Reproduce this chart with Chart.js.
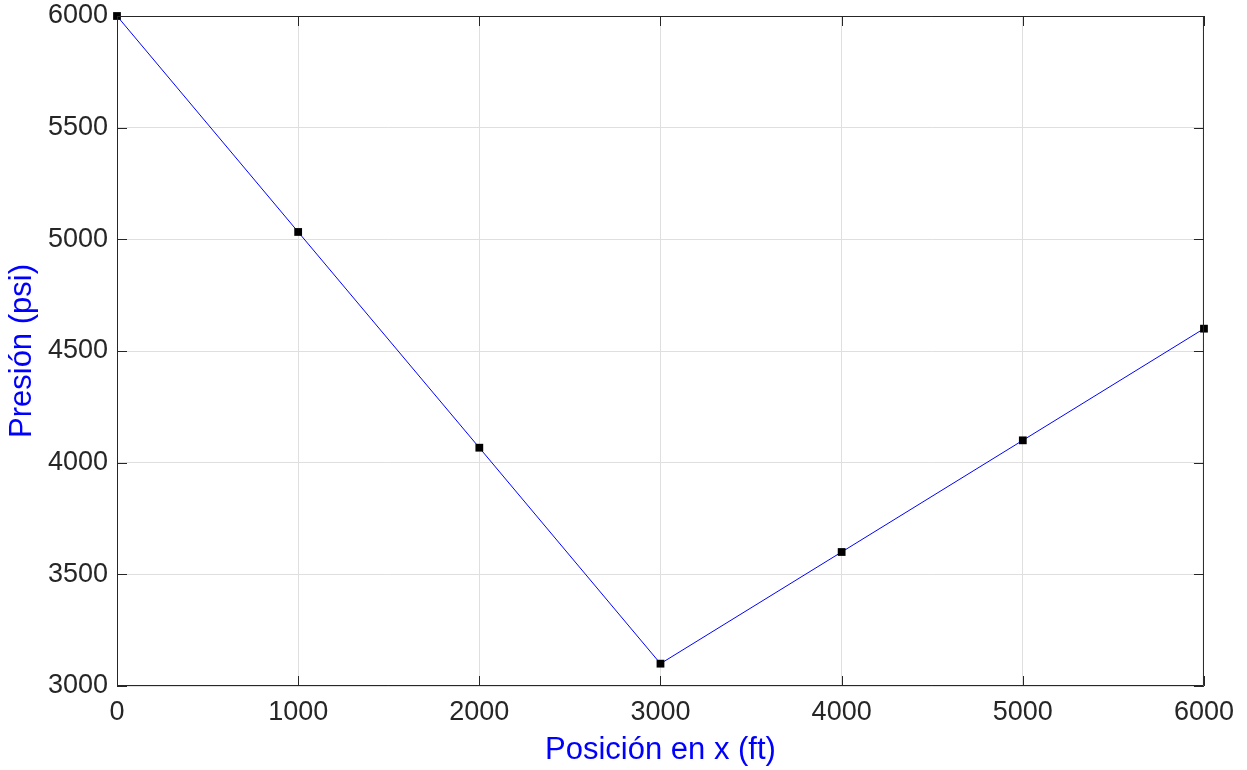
<!DOCTYPE html>
<html>
<head>
<meta charset="utf-8">
<script src="https://cdn.jsdelivr.net/npm/chart.js@4"></script>
<style>
html,body{margin:0;padding:0;background:#fff;}
#c{display:block;}
</style>
</head>
<body>
<canvas id="c" width="1247" height="770"></canvas>
<script>
const positions = [0, 1000, 2000, 3000, 4000, 5000, 6000];
const pressures = [6000, 5033, 4067, 3100, 3600, 4100, 4600];
const xTicks = [0, 1000, 2000, 3000, 4000, 5000, 6000];
const yTicks = [3000, 3500, 4000, 4500, 5000, 5500, 6000];
const xTitle = 'Posición en x (ft)';
const yTitle = 'Presión (psi)';

const FONT = '"Liberation Sans", Arial, Helvetica, sans-serif';
const AXIS = '#262626';

const boxPlugin = {
  id: 'box',
  afterDatasetsDraw(chart) {
    const {ctx, chartArea: a, scales} = chart;
    ctx.save();
    ctx.strokeStyle = AXIS;
    ctx.lineWidth = 1;
    ctx.beginPath();
    ctx.rect(a.left + 0.5, a.top + 0.5, a.right - a.left - 1, a.bottom - a.top - 1);
    ctx.stroke();
    const L = 10;
    ctx.beginPath();
    xTicks.forEach(v => {
      const x = Math.round(scales.x.getPixelForValue(v)) + 0.5;
      ctx.moveTo(x, a.bottom); ctx.lineTo(x, a.bottom - L);
      ctx.moveTo(x, a.top); ctx.lineTo(x, a.top + L);
    });
    yTicks.forEach(v => {
      const y = Math.round(scales.y.getPixelForValue(v)) + 0.5;
      ctx.moveTo(a.left, y); ctx.lineTo(a.left + L, y);
      ctx.moveTo(a.right, y); ctx.lineTo(a.right - L, y);
    });
    ctx.stroke();
    ctx.restore();
  }
};

new Chart(document.getElementById('c'), {
  type: 'line',
  data: {
    datasets: [{
      data: positions.map((x, i) => ({x, y: pressures[i]})),
      borderColor: '#0000ff',
      borderWidth: 1,
      pointStyle: 'rect',
      pointRadius: 5.5,
      pointBackgroundColor: '#000',
      pointBorderColor: '#000',
      pointBorderWidth: 0,
      tension: 0,
      clip: false
    }]
  },
  options: {
    responsive: false,
    animation: false,
    layout: {padding: {top: 16, right: 41, left: 0, bottom: 0}},
    plugins: {legend: {display: false}, tooltip: {enabled: false}},
    scales: {
      x: {
        type: 'linear', min: 0, max: 6000,
        afterBuildTicks: s => { s.ticks = xTicks.map(v => ({value: v})); },
        afterFit: s => { s.height = 84; },
        grid: {color: '#dfdfdf', drawTicks: false},
        border: {display: false},
        ticks: {color: AXIS, padding: 13, font: {family: FONT, size: 27, lineHeight: 1}, maxRotation: 0,
                callback: v => String(v)},
        title: {display: true, text: xTitle, color: '#0000ff', font: {family: FONT, size: 31}, padding: {top: 0, bottom: 1}}
      },
      y: {
        type: 'linear', min: 3000, max: 6000,
        afterBuildTicks: s => { s.ticks = yTicks.map(v => ({value: v})); },
        afterFit: s => { s.width = 117; },
        grid: {color: '#dfdfdf', drawTicks: false},
        border: {display: false},
        ticks: {color: AXIS, padding: 9, font: {family: FONT, size: 27, lineHeight: 0.5},
                callback: v => String(v)},
        title: {display: true, text: yTitle, color: '#0000ff', font: {family: FONT, size: 31}, padding: {bottom: 0, top: 4}}
      }
    }
  },
  plugins: [boxPlugin]
});
</script>
</body>
</html>
